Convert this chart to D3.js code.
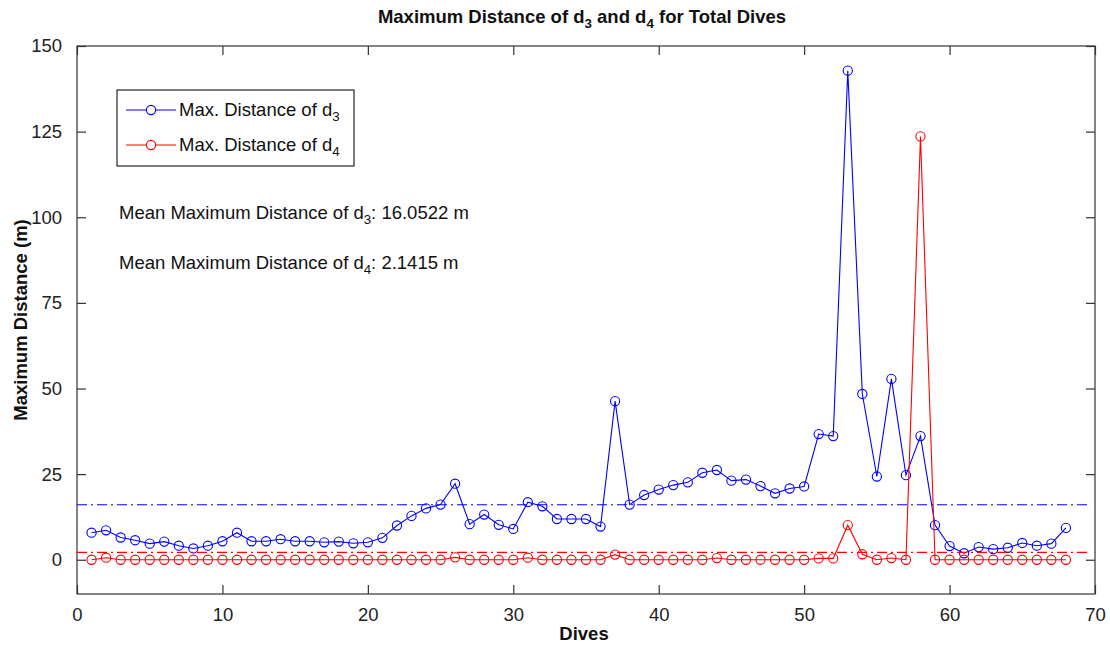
<!DOCTYPE html>
<html>
<head>
<meta charset="utf-8">
<script src="https://cdn.jsdelivr.net/npm/d3@7"></script>
<style>
  html, body { margin: 0; padding: 0; background: #fff; }
  svg { display: block; font-family: "Liberation Sans", Arial, Helvetica, sans-serif; }
</style>
</head>
<body>
<svg id="chart" width="1110" height="645"></svg>
<script>
const dives = [1,2,3,4,5,6,7,8,9,10,11,12,13,14,15,16,17,18,19,20,21,22,23,24,25,26,27,28,29,30,31,32,33,34,35,36,37,38,39,40,41,42,43,44,45,46,47,48,49,50,51,52,53,54,55,56,57,58,59,60,61,62,63,64,65,66,67,68];
const maxD3 = [7.9,8.6,6.5,5.7,4.7,5.3,4.1,3.3,4.1,5.4,
               7.9,5.4,5.4,6.0,5.4,5.4,5.1,5.3,4.8,5.1,
               6.4,10.0,12.8,15.0,16.1,22.2,10.4,13.2,10.2,9.0,
               16.8,15.6,11.9,11.9,11.9,9.7,46.3,16.1,18.9,20.5,
               21.8,22.6,25.4,26.2,23.1,23.4,21.5,19.4,20.8,21.4,
               36.7,36.1,142.8,48.4,24.3,52.8,24.7,36.1,10.1,4.0,
               1.9,3.7,3.1,3.5,4.9,4.1,4.7,9.3];
const maxD4 = [0,0.6,0,0,0,0,0,0,0,0,
               0,0,0,0,0,0,0,0,0,0,
               0,0,0,0,0,0.7,0,0,0,0,
               0.6,0,0,0,0,0,1.5,0,0,0,
               0,0,0,0.5,0,0,0,0,0,0,
               0.4,0.4,10.1,1.6,0,0.5,0,123.6,0,0,
               0,0,0,0,0,0,0,0];
const meanD3 = 16.0522;
const meanD4 = 2.1415;
const xTicks = [0,10,20,30,40,50,60,70];
const yTicks = [0,25,50,75,100,125,150];
const xDomain = [0,70];
const yDomain = [-10,150];

const svg = d3.select("#chart");
const L = 77, R = 1095, T = 46, B = 594;
const x = d3.scaleLinear().domain(xDomain).range([L, R]);
const y = d3.scaleLinear().domain(yDomain).range([B, T]);
const axisColor = "#333";
const fs = 18.5;

// Frame
svg.append("rect").attr("x", L).attr("y", T).attr("width", R - L).attr("height", B - T)
  .attr("fill", "none").attr("stroke", axisColor).attr("stroke-width", 1.2);

function styleAxis(g, showLabels) {
  g.select(".domain").remove();
  g.selectAll(".tick line").attr("stroke", axisColor).attr("stroke-width", 1.2);
  g.selectAll(".tick text").attr("fill", "#222").style("font-size", fs + "px");
  if (!showLabels) g.selectAll(".tick text").remove();
}
svg.append("g").attr("transform", `translate(0,${B})`)
  .call(d3.axisBottom(x).tickValues(xTicks).tickSize(-9).tickPadding(14).tickFormat(d3.format("d")))
  .call(g => styleAxis(g, true));
svg.append("g").attr("transform", `translate(0,${T})`)
  .call(d3.axisTop(x).tickValues(xTicks).tickSize(-9))
  .call(g => styleAxis(g, false));
svg.append("g").attr("transform", `translate(${L},0)`)
  .call(d3.axisLeft(y).tickValues(yTicks).tickSize(-9).tickPadding(15).tickFormat(d3.format("d")))
  .call(g => styleAxis(g, true));
svg.append("g").attr("transform", `translate(${R},0)`)
  .call(d3.axisRight(y).tickValues(yTicks).tickSize(-9))
  .call(g => styleAxis(g, false));

// Series
const series = [
  { vals: maxD3, color: "#0000ff" },
  { vals: maxD4, color: "#ff0000" }
];
const line = d3.line().x((d, i) => x(dives[i])).y(d => y(d));
series.forEach(s => {
  svg.append("path").datum(s.vals).attr("d", line)
    .attr("fill", "none").attr("stroke", s.color).attr("stroke-width", 1.1);
  svg.append("g").selectAll("circle").data(s.vals).join("circle")
    .attr("cx", (d, i) => x(dives[i])).attr("cy", d => y(d)).attr("r", 4.6)
    .attr("fill", "none").attr("stroke", s.color).attr("stroke-width", 1.1);
});

// Mean lines
[{ v: meanD3, color: "#0000ff" }, { v: meanD4, color: "#ff0000" }].forEach(m => {
  svg.append("line").attr("x1", x(xDomain[0])).attr("x2", x(xDomain[1]) - 4)
    .attr("y1", y(m.v)).attr("y2", y(m.v))
    .attr("stroke", m.color).attr("stroke-width", 1.1).attr("stroke-dasharray", "10,4,2,4");
});

// Text helper with subscript
function subText(g, parts, attrs) {
  const t = g.append("text");
  Object.entries(attrs).forEach(([k, v]) => t.attr(k, v));
  parts.forEach(p => {
    if (p.sub) {
      t.append("tspan").attr("dy", 5).style("font-size", "0.72em").text(p.t);
    } else {
      const ts = t.append("tspan").text(p.t);
      if (p.after) ts.attr("dy", -5);
    }
  });
  return t;
}

// Title
subText(svg, [
  { t: "Maximum Distance of d" }, { t: "3", sub: true }, { t: " and d", after: true },
  { t: "4", sub: true }, { t: " for Total Dives", after: true }
], { x: (L + R) / 2 - 4, y: 23, "text-anchor": "middle", "font-weight": "bold", "font-size": fs + "px", fill: "#111" });

// Axis labels
svg.append("text").attr("x", (L + R) / 2 - 2).attr("y", 640).attr("text-anchor", "middle")
  .attr("font-weight", "bold").attr("font-size", fs + "px").attr("fill", "#111").text("Dives");
svg.append("text").attr("transform", `translate(27,${(T + B) / 2}) rotate(-90)`)
  .attr("text-anchor", "middle").attr("font-weight", "bold").attr("font-size", fs + "px")
  .attr("fill", "#111").text("Maximum Distance (m)");

// Legend
const lg = svg.append("g");
lg.append("rect").attr("x", 117).attr("y", 90).attr("width", 237).attr("height", 76)
  .attr("fill", "#fff").attr("stroke", "#111").attr("stroke-width", 1.1);
const legendItems = [
  { label: "Max. Distance of d", sub: "3", color: "#0000ff", yy: 110 },
  { label: "Max. Distance of d", sub: "4", color: "#ff0000", yy: 145 }
];
legendItems.forEach(it => {
  lg.append("line").attr("x1", 126).attr("x2", 176).attr("y1", it.yy).attr("y2", it.yy)
    .attr("stroke", it.color).attr("stroke-width", 1.1);
  lg.append("circle").attr("cx", 151).attr("cy", it.yy).attr("r", 4.6)
    .attr("fill", "#fff").attr("stroke", it.color).attr("stroke-width", 1.1);
  subText(lg, [{ t: it.label }, { t: it.sub, sub: true }],
    { x: 179, y: it.yy + 6, "font-size": fs + "px", fill: "#111" });
});

// Annotations
subText(svg, [{ t: "Mean Maximum Distance of d" }, { t: "3", sub: true }, { t: ": " + meanD3 + " m", after: true }],
  { x: 119, y: 219, "font-size": fs + "px", fill: "#111" });
subText(svg, [{ t: "Mean Maximum Distance of d" }, { t: "4", sub: true }, { t: ": " + meanD4 + " m", after: true }],
  { x: 119, y: 269, "font-size": fs + "px", fill: "#111" });
</script>
</body>
</html>
